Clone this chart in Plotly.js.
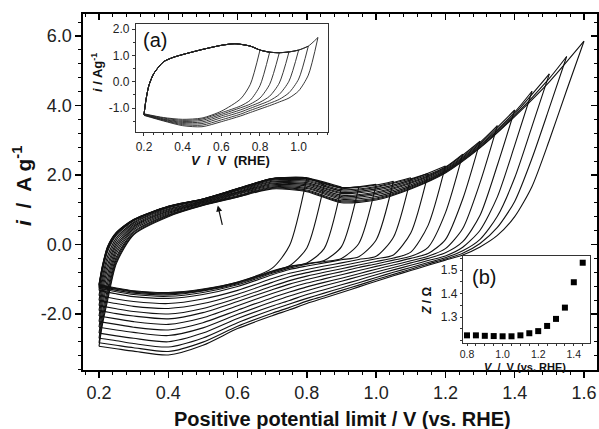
<!DOCTYPE html>
<html><head><meta charset="utf-8">
<script src="https://cdn.plot.ly/plotly-3.0.1.min.js"></script>
<style>html,body{margin:0;padding:0;background:#fff}#chart{width:599px;height:429px}</style>
</head><body><div id="chart"></div>
<script>
// ---------- Main panel: CVs with increasing positive potential limit ----------
const limits = [0.80,0.85,0.90,0.95,1.00,1.05,1.10,1.15,1.20,1.25,1.30,1.35,1.40,1.45,1.50,1.55,1.60];

// anodic sweep potentials (each curve uses the points below its limit, then its vertex)
const anodicV = [0.20,0.21,0.225,0.25,0.30,0.40,0.50,0.60,0.70,0.80,0.90,1.00,1.10,1.20,1.30,1.40,1.50,1.60];
const anodicI = [
  [-1.15,-0.60,-0.05,0.35,0.72,1.10,1.31,1.61,1.90,1.92],
  [-1.17,-0.62,-0.07,0.34,0.72,1.10,1.31,1.61,1.90,1.92,1.72],
  [-1.19,-0.64,-0.08,0.33,0.71,1.09,1.31,1.60,1.89,1.91,1.65],
  [-1.22,-0.67,-0.11,0.31,0.70,1.09,1.30,1.60,1.89,1.90,1.64,1.66],
  [-1.26,-0.71,-0.15,0.29,0.69,1.08,1.30,1.59,1.88,1.90,1.63,1.73],
  [-1.32,-0.76,-0.20,0.26,0.68,1.07,1.29,1.59,1.87,1.88,1.62,1.71,1.82],
  [-1.47,-0.91,-0.33,0.19,0.64,1.05,1.28,1.57,1.85,1.85,1.58,1.67,1.92],
  [-1.61,-1.04,-0.45,0.12,0.61,1.02,1.26,1.55,1.82,1.82,1.54,1.64,1.89,2.04],
  [-1.76,-1.18,-0.58,0.04,0.57,1.00,1.24,1.52,1.80,1.78,1.50,1.60,1.86,2.26],
  [-1.90,-1.32,-0.70,-0.03,0.53,0.97,1.23,1.50,1.77,1.75,1.47,1.56,1.83,2.23,2.60],
  [-2.06,-1.47,-0.84,-0.11,0.50,0.95,1.21,1.48,1.75,1.72,1.42,1.51,1.79,2.21,2.97],
  [-2.22,-1.62,-0.98,-0.19,0.46,0.92,1.20,1.46,1.72,1.68,1.38,1.47,1.76,2.18,2.94,3.42],
  [-2.38,-1.77,-1.12,-0.27,0.42,0.89,1.18,1.44,1.69,1.64,1.34,1.43,1.72,2.15,2.90,3.87],
  [-2.55,-1.94,-1.27,-0.36,0.37,0.86,1.16,1.41,1.66,1.61,1.30,1.38,1.68,2.12,2.86,3.81,4.41],
  [-2.70,-2.08,-1.40,-0.43,0.34,0.84,1.14,1.39,1.64,1.57,1.26,1.34,1.65,2.10,2.83,3.76,4.91],
  [-2.83,-2.20,-1.51,-0.50,0.30,0.82,1.13,1.37,1.62,1.54,1.23,1.31,1.62,2.08,2.80,3.71,4.78,5.41],
  [-2.93,-2.30,-1.60,-0.55,0.28,0.80,1.12,1.36,1.60,1.52,1.20,1.28,1.60,2.06,2.78,3.68,4.68,5.85]
];

// cathodic sweep potentials (each curve starts at its limit)
const cathodicV = [1.60,1.55,1.50,1.45,1.40,1.35,1.30,1.25,1.20,1.15,1.10,1.05,1.00,0.95,0.90,0.85,0.80,0.75,0.70,0.60,0.50,0.40,0.30,0.25,0.20];
const cathodicI = [
  [1.92,-0.03,-0.68,-1.08,-1.28,-1.38,-1.33,-1.25,-1.15],
  [1.72,-0.10,-0.61,-0.76,-1.09,-1.30,-1.40,-1.35,-1.27,-1.17],
  [1.65,-0.12,-0.53,-0.63,-0.78,-1.11,-1.32,-1.42,-1.37,-1.29,-1.19],
  [1.66,-0.06,-0.46,-0.55,-0.65,-0.80,-1.13,-1.34,-1.45,-1.40,-1.32,-1.22],
  [1.73,0.03,-0.40,-0.49,-0.57,-0.68,-0.83,-1.16,-1.38,-1.49,-1.44,-1.36,-1.26],
  [1.82,0.13,-0.35,-0.44,-0.53,-0.62,-0.72,-0.87,-1.21,-1.44,-1.55,-1.50,-1.42,-1.32],
  [1.92,0.21,-0.34,-0.43,-0.53,-0.62,-0.72,-0.83,-0.98,-1.32,-1.57,-1.70,-1.64,-1.57,-1.47],
  [2.04,0.33,-0.30,-0.41,-0.51,-0.61,-0.71,-0.81,-0.93,-1.09,-1.43,-1.70,-1.84,-1.78,-1.70,-1.61],
  [2.26,0.55,-0.22,-0.39,-0.49,-0.59,-0.70,-0.80,-0.91,-1.04,-1.20,-1.54,-1.84,-2.00,-1.93,-1.85,-1.76],
  [2.60,0.91,-0.08,-0.34,-0.45,-0.56,-0.66,-0.78,-0.89,-1.01,-1.14,-1.30,-1.64,-1.96,-2.14,-2.06,-1.99,-1.90],
  [2.97,1.31,0.14,-0.26,-0.40,-0.52,-0.63,-0.75,-0.87,-0.99,-1.11,-1.25,-1.41,-1.76,-2.11,-2.30,-2.22,-2.14,-2.06],
  [3.42,1.78,0.46,-0.12,-0.34,-0.47,-0.59,-0.71,-0.84,-0.97,-1.09,-1.22,-1.37,-1.53,-1.89,-2.25,-2.46,-2.38,-2.30,-2.22],
  [3.87,2.28,0.84,0.08,-0.24,-0.40,-0.53,-0.66,-0.79,-0.92,-1.06,-1.19,-1.33,-1.48,-1.65,-2.01,-2.40,-2.62,-2.53,-2.46,-2.38],
  [4.41,2.85,1.37,0.41,-0.08,-0.33,-0.46,-0.60,-0.73,-0.87,-1.02,-1.16,-1.30,-1.44,-1.61,-1.77,-2.13,-2.55,-2.80,-2.70,-2.63,-2.55],
  [4.91,3.40,1.92,0.81,0.15,-0.18,-0.38,-0.52,-0.66,-0.80,-0.95,-1.10,-1.25,-1.40,-1.55,-1.71,-1.88,-2.25,-2.69,-2.95,-2.85,-2.77,-2.70],
  [5.41,3.93,2.48,1.24,0.49,0.03,-0.25,-0.42,-0.56,-0.71,-0.86,-1.01,-1.17,-1.32,-1.48,-1.63,-1.81,-1.98,-2.35,-2.81,-3.08,-2.97,-2.90,-2.83],
  [5.85,4.44,3.00,1.67,0.80,0.26,-0.07,-0.30,-0.45,-0.60,-0.75,-0.90,-1.06,-1.22,-1.38,-1.54,-1.70,-1.88,-2.05,-2.42,-2.90,-3.18,-3.07,-3.00,-2.93]
];

// arrow marking the anodic sweep
const arrowTail = [0.557, 0.52];
const arrowHead = [0.543, 1.12];

// ---------- Inset (a) ----------
const insetLimits = [0.80,0.85,0.90,0.95,1.00,1.05,1.10];
const insetAnodicV = [0.20,0.21,0.225,0.25,0.30,0.35,0.40,0.50,0.60,0.67,0.75,0.80,0.85,0.90,0.95,1.00,1.05,1.10];
const insetAnodicI = [-1.25,-0.70,-0.15,0.30,0.75,0.92,1.03,1.22,1.38,1.44,1.35,1.20,1.12,1.10,1.13,1.20,1.35,1.68];
const insetCathodicV = [1.10,1.05,1.00,0.95,0.90,0.85,0.80,0.75,0.70,0.60,0.50,0.40,0.30,0.20];
const insetCathodicI = [
  [1.20,-0.10,-0.65,-1.12,-1.38,-1.43,-1.36,-1.22],
  [1.12,-0.15,-0.70,-0.92,-1.18,-1.42,-1.47,-1.38,-1.23],
  [1.10,-0.10,-0.62,-0.85,-0.99,-1.24,-1.47,-1.51,-1.41,-1.24],
  [1.13,-0.05,-0.55,-0.78,-0.93,-1.07,-1.30,-1.53,-1.55,-1.43,-1.25],
  [1.20,0.02,-0.48,-0.72,-0.87,-1.01,-1.15,-1.37,-1.59,-1.59,-1.45,-1.26],
  [1.35,0.10,-0.42,-0.67,-0.82,-0.96,-1.09,-1.23,-1.45,-1.65,-1.63,-1.47,-1.27],
  [1.68,0.25,-0.35,-0.62,-0.77,-0.91,-1.04,-1.17,-1.30,-1.52,-1.71,-1.67,-1.49,-1.28]
];

// ---------- Inset (b): impedance vs potential ----------
const zV   = [0.80,0.85,0.90,0.95,1.00,1.05,1.10,1.15,1.20,1.25,1.30,1.35,1.40,1.45];
const zOhm = [1.222,1.222,1.220,1.219,1.218,1.218,1.222,1.231,1.240,1.262,1.292,1.340,1.448,1.531];

// ---------- tick labels ----------
const mainYTicks = [-2, 0, 2, 4, 6];
const mainYLabels = ['-2.0','0.0','2.0','4.0','6.0'];
const insetYTicks = [-1, 0, 1, 2];
const insetYLabels = ['-1.0','0.0','1.0','2.0'];
const zYTicks = [1.3, 1.4, 1.5];
const zYLabels = ['1.3','1.4','1.5'];

// ---------- build traces ----------
const EPS = 1e-9;
const traces = [];
const lineMain = {color:'#111', width:1.1, shape:'spline', smoothing:0.7};
limits.forEach((L, k) => {
  const ax = anodicV.filter(v => v < L - EPS).concat([L]);
  traces.push({type:'scatter', mode:'lines', x: ax, y: anodicI[k], line: lineMain,
               xaxis:'x', yaxis:'y', hoverinfo:'skip', showlegend:false});
  const cx = cathodicV.filter(v => v <= L + EPS);
  traces.push({type:'scatter', mode:'lines', x: cx, y: cathodicI[k], line: lineMain,
               xaxis:'x', yaxis:'y', hoverinfo:'skip', showlegend:false});
});
const lineInset = {color:'#222', width:0.9, shape:'spline', smoothing:0.7};
insetLimits.forEach((L, j) => {
  const ax = insetAnodicV.filter(v => v <= L + EPS);
  traces.push({type:'scatter', mode:'lines', x: ax, y: insetAnodicI.slice(0, ax.length), line: lineInset,
               xaxis:'x2', yaxis:'y2', hoverinfo:'skip', showlegend:false});
  const cx = insetCathodicV.filter(v => v <= L + EPS);
  traces.push({type:'scatter', mode:'lines', x: cx, y: insetCathodicI[j], line: lineInset,
               xaxis:'x2', yaxis:'y2', hoverinfo:'skip', showlegend:false});
});
traces.push({type:'scatter', mode:'markers', x: zV, y: zOhm,
             marker:{symbol:'square', size:6, color:'#000'},
             xaxis:'x3', yaxis:'y3', hoverinfo:'skip', showlegend:false});
// carriers for the mirrored (inside) ticks on the top and right of the main frame
traces.push({type:'scatter', mode:'lines', x:[], y:[], xaxis:'x4', yaxis:'y', showlegend:false, hoverinfo:'skip'});
traces.push({type:'scatter', mode:'lines', x:[], y:[], xaxis:'x', yaxis:'y4', showlegend:false, hoverinfo:'skip'});

const FONT = 'Liberation Sans, Arial, Helvetica, sans-serif';
const xr = [0.1538, 1.6376], yr = [-3.612, 6.633];

const layout = {
  width: 599, height: 429,
  margin: {l:83, r:2, t:14, b:59, pad:0},
  paper_bgcolor:'#fff', plot_bgcolor:'#fff',
  font:{family:FONT, color:'#222'},
  showlegend:false,
  xaxis: {domain:[0,1], range:xr, anchor:'y', tickmode:'linear', tick0:0.2, dtick:0.2, tickformat:'.1f',
          ticks:'outside', ticklen:6, tickwidth:1.3, tickcolor:'#000',
          minor:{tickmode:'linear', tick0:0.2, dtick:0.04, ticks:'outside', ticklen:3, tickwidth:1, tickcolor:'#000'},
          showline:true, linewidth:1.6, linecolor:'#000', showgrid:false, zeroline:false,
          tickfont:{family:FONT, size:18, color:'#222'}},
  yaxis: {domain:[0,1], range:yr, anchor:'x', tickmode:'array', tickvals:mainYTicks, ticktext:mainYLabels,
          ticks:'outside', ticklen:6, tickwidth:1.3, tickcolor:'#000',
          minor:{tickmode:'linear', tick0:0, dtick:0.4, ticks:'outside', ticklen:3, tickwidth:1, tickcolor:'#000'},
          showline:true, linewidth:1.6, linecolor:'#000', showgrid:false, zeroline:false,
          tickfont:{family:FONT, size:18, color:'#222'}},
  xaxis4: {overlaying:'x', side:'top', anchor:'y', range:xr, tickmode:'linear', tick0:0.2, dtick:0.2,
           ticks:'inside', ticklen:6, tickwidth:1.3, tickcolor:'#000', showticklabels:false,
           minor:{tickmode:'linear', tick0:0.2, dtick:0.04, ticks:'inside', ticklen:3, tickwidth:1, tickcolor:'#000'},
           showline:true, linewidth:1.6, linecolor:'#000', showgrid:false, zeroline:false},
  yaxis4: {overlaying:'y', side:'right', anchor:'x', range:yr, tickmode:'array', tickvals:mainYTicks,
           ticks:'inside', ticklen:6, tickwidth:1.3, tickcolor:'#000', showticklabels:false,
           minor:{tickmode:'linear', tick0:0, dtick:0.4, ticks:'inside', ticklen:3, tickwidth:1, tickcolor:'#000'},
           showline:true, linewidth:1.6, linecolor:'#000', showgrid:false, zeroline:false},
  // inset (a)
  xaxis2: {domain:[0.1031, 0.4767], range:[0.1586, 1.1519], anchor:'y2', tickmode:'linear', tick0:0.2, dtick:0.2, tickformat:'.1f',
           ticks:'outside', ticklen:3, tickwidth:1, tickcolor:'#333',
           minor:{tickmode:'linear', tick0:0.2, dtick:0.05, ticks:'outside', ticklen:2, tickwidth:1, tickcolor:'#333'},
           showline:true, mirror:true, linewidth:1.1, linecolor:'#333', showgrid:false, zeroline:false,
           tickfont:{family:FONT, size:12, color:'#222'}},
  yaxis2: {domain:[0.6685, 0.9719], range:[-1.911, 2.19], anchor:'x2', tickmode:'array', tickvals:insetYTicks, ticktext:insetYLabels,
           ticks:'outside', ticklen:3, tickwidth:1, tickcolor:'#333',
           minor:{tickmode:'linear', tick0:0, dtick:0.5, ticks:'outside', ticklen:2, tickwidth:1, tickcolor:'#333'},
           showline:true, mirror:true, linewidth:1.1, linecolor:'#333', showgrid:false, zeroline:false,
           tickfont:{family:FONT, size:12, color:'#222'}},
  // inset (b)
  xaxis3: {domain:[0.7393, 0.9864], range:[0.7775, 1.491], anchor:'y3', tickmode:'linear', tick0:0.8, dtick:0.2, tickformat:'.1f',
           ticks:'outside', ticklen:1.5, tickwidth:1, tickcolor:'#333',
           minor:{tickmode:'linear', tick0:0.8, dtick:0.05, ticks:'outside', ticklen:1.5, tickwidth:1, tickcolor:'#333'},
           showline:true, mirror:true, linewidth:1.1, linecolor:'#333', showgrid:false, zeroline:false,
           tickfont:{family:FONT, size:10.5, color:'#222'}},
  yaxis3: {domain:[0.0758, 0.3202], range:[1.1894, 1.5596], anchor:'x3', tickmode:'array', tickvals:zYTicks, ticktext:zYLabels,
           ticks:'outside', ticklen:2, tickwidth:1, tickcolor:'#333',
           minor:{tickmode:'linear', tick0:1.2, dtick:0.05, ticks:'outside', ticklen:1.5, tickwidth:1, tickcolor:'#333'},
           showline:true, mirror:true, linewidth:1.1, linecolor:'#333', showgrid:false, zeroline:false,
           tickfont:{family:FONT, size:12, color:'#222'}},
  annotations: [
    {xref:'paper', yref:'paper', x:0.504, y:-0.1376, xanchor:'center', yanchor:'middle', showarrow:false,
     text:'<b>Positive potential limit / V (vs. RHE)</b>', font:{family:FONT, size:20, color:'#111'}},
    {xref:'paper', yref:'paper', x:-0.1187, y:0.5169, xanchor:'center', yanchor:'middle', showarrow:false, textangle:-90,
     text:'<b><i>i</i>  /  A g<sup>-1</sup></b>', font:{family:FONT, size:21, color:'#111'}},
    {xref:'paper', yref:'paper', x:0.1401, y:0.927, xanchor:'center', yanchor:'middle', showarrow:false,
     text:'(a)', font:{family:FONT, size:20, color:'#111'}},
    {xref:'paper', yref:'paper', x:0.780, y:0.2612, xanchor:'center', yanchor:'middle', showarrow:false,
     text:'(b)', font:{family:FONT, size:20, color:'#111'}},
    {xref:'paper', yref:'paper', x:0.0272, y:0.837, xanchor:'center', yanchor:'middle', showarrow:false, textangle:-90,
     text:'<b><i>i</i> / Ag<sup>-1</sup></b>', font:{family:FONT, size:13, color:'#111'}},
    {xref:'paper', yref:'paper', x:0.286, y:0.5885, xanchor:'center', yanchor:'middle', showarrow:false,
     text:'<b><i>V</i>  /  V  (RHE)</b>', font:{family:FONT, size:13, color:'#111'}},
    {xref:'paper', yref:'paper', x:0.669, y:0.1938, xanchor:'center', yanchor:'middle', showarrow:false, textangle:-90,
     text:'<b><i>Z</i> / Ω</b>', font:{family:FONT, size:12, color:'#111'}},
    {xref:'paper', yref:'paper', x:0.860, y:0.0098, xanchor:'center', yanchor:'middle', showarrow:false,
     text:'<b><i>V</i>  /  V (vs. RHE)</b>', font:{family:FONT, size:11, color:'#111'}},
    {xref:'x', yref:'y', axref:'x', ayref:'y', x:arrowHead[0], y:arrowHead[1], ax:arrowTail[0], ay:arrowTail[1],
     showarrow:true, arrowhead:2, arrowsize:1, arrowwidth:1.2, arrowcolor:'#111', text:''}
  ]
};

Plotly.newPlot('chart', traces, layout, {staticPlot:true, displayModeBar:false});
</script>
</body></html>
